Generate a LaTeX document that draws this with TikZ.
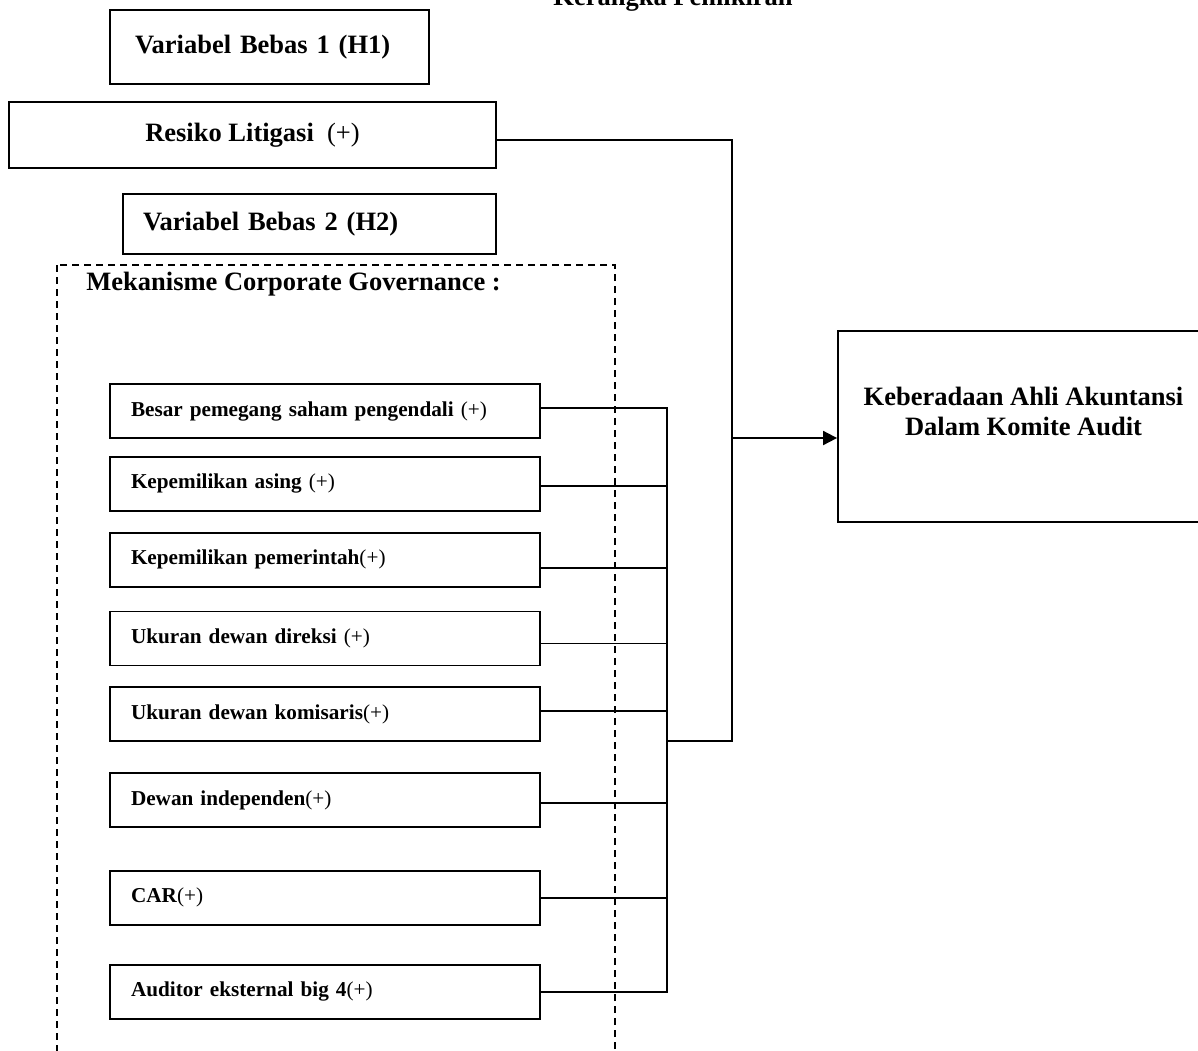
\documentclass[tikz,border=0pt]{standalone}
\usepackage{fontspec}
\setmainfont{Liberation Serif}
\usetikzlibrary{positioning,arrows.meta}
\tikzset{
  bigtxt/.style={font=\fontsize{13.25pt}{15pt}\selectfont\bfseries},
  smalltxt/.style={font=\fontsize{10.6pt}{12pt}\selectfont\bfseries},
  hbox/.style={draw,line width=0.9pt,bigtxt,inner ysep=0pt},
  sbox/.style={draw,line width=0.9pt,smalltxt,text width=194pt,inner xsep=10.5pt,
               inner ysep=0pt,minimum height=27pt,align=left},
  cgframe/.style={draw,line width=0.9pt,dash pattern=on 3.5pt off 2.5pt},
  conn/.style={line width=0.9pt},
  arr/.style={-{Triangle[length=7pt,width=7pt]},line width=0.9pt},
}

\begin{document}
\begin{tikzpicture}[x=0.5pt,y=-0.5pt,node distance=10pt]
  \useasboundingbox (0,0) rectangle (1198,1050);
  \clip (0,0) rectangle (1198,1050);
  % title, cut at the top
  \node[bigtxt,inner sep=0pt,anchor=base east] (title) at (793,5) {Kerangka Pemikiran};
  % variabel bebas 1
  \node[hbox,text width=134.5pt,inner xsep=12.5pt,minimum height=37pt,align=left] (h1) at (269.5,47) {Variabel Bebas 1 (H1)};
  \node[hbox,minimum width=243.5pt,minimum height=33pt] (res) at (252.5,135) {Resiko Litigasi~ \textmd{(+)}};
  % variabel bebas 2
  \node[hbox,text width=166.5pt,inner xsep=10pt,minimum height=30pt,align=left] (h2) at (309.5,224) {Variabel Bebas 2 (H2)};
  \draw[cgframe] (57,265) rectangle (615,1110);
  \node[bigtxt,inner sep=0pt,anchor=base west] (cglabel) at (86,290) {Mekanisme Corporate Governance :};
  \node[sbox] (b1) at (325,411) {Besar pemegang saham pengendali \textmd{(+)}};
  \node[sbox,below=8.5pt of b1] (b2) {Kepemilikan asing \textmd{(+)}};
  \node[sbox,below=10pt of b2] (b3) {Kepemilikan pemerintah\textmd{(+)}};
  \node[sbox,below=11.5pt of b3] (b4) {Ukuran dewan direksi \textmd{(+)}};
  \node[sbox,below=10pt of b4] (b5) {Ukuran dewan komisaris\textmd{(+)}};
  \node[sbox,below=15pt of b5] (b6) {Dewan independen\textmd{(+)}};
  \node[sbox,below=21pt of b6] (b7) {CAR\textmd{(+)}};
  \node[sbox,below=19pt of b7] (b8) {Auditor eksternal big 4\textmd{(+)}};
  % variabel terikat
  \node[hbox,minimum width=185.5pt,minimum height=95.5pt,align=center] (akt) at (1023.5,426.5) {Keberadaan Ahli Akuntansi\\Dalam Komite Audit\\[0pt]};
  \coordinate (bus) at (667,741);
  \coordinate (riser) at (732,741);
  \coordinate (split) at (732,438);
  \draw[conn] ([yshift=1.5pt]b1.east) -| (bus |- b8.east) -- (b8.east);
  \draw[conn] ([yshift=-1.25pt]b2.east) -- ([yshift=-1.25pt]b2.east -| bus);
  \draw[conn] ([yshift=-4pt]b3.east) -- ([yshift=-4pt]b3.east -| bus);
  \draw[conn] ([yshift=-2.5pt]b4.east) -- ([yshift=-2.5pt]b4.east -| bus);
  \draw[conn] ([yshift=1.5pt]b5.east) -- ([yshift=1.5pt]b5.east -| bus);
  \draw[conn] ([yshift=-1.5pt]b6.east) -- ([yshift=-1.5pt]b6.east -| bus);
  \draw[conn] (b7.east) -- (b7.east -| bus);
  \draw[conn] ([yshift=-2.5pt]res.east) -| (riser) -- (bus);
  \draw[arr] (split) -- (split -| akt.west);
\end{tikzpicture}
\end{document}
